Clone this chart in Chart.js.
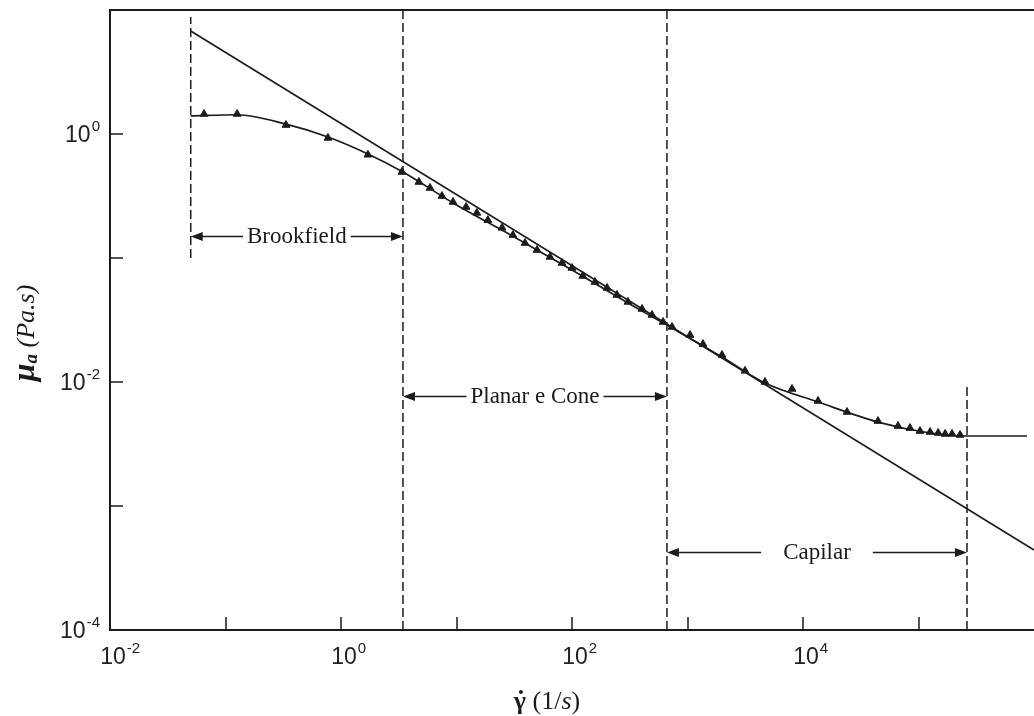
<!DOCTYPE html>
<html>
<head>
<meta charset="utf-8">
<script src="https://cdn.jsdelivr.net/npm/chart.js@4"></script>
<style>
  html, body { margin: 0; padding: 0; background: #fff; overflow: hidden; }
  #wrap { width: 1034px; height: 716px; position: relative; }
</style>
</head>
<body>
<div id="wrap"><canvas id="chart"></canvas></div>
<script>
// measured apparent viscosity (Pa.s) against shear rate (1/s)
const shearRate = [0.0652, 0.126, 0.334, 0.771, 1.71, 3.37, 4.73, 5.90, 7.48, 9.33,
  12.1, 15.0, 18.7, 24.8, 30.8, 39.2, 49.8, 64.5, 81.9, 100,
  124, 158, 201, 245, 305, 404, 493, 614, 735, 1052,
  1362, 1990, 3148, 4690, 8035, 13490, 24050, 44580, 66500, 84400,
  103000, 126000, 148000, 170000, 195000, 229000];
const viscosity = [1.45, 1.45, 1.18, 0.93, 0.68, 0.494, 0.410, 0.367, 0.316, 0.283,
  0.258, 0.231, 0.202, 0.175, 0.153, 0.132, 0.116, 0.102, 0.0912, 0.083,
  0.0716, 0.064, 0.0573, 0.0503, 0.0442, 0.0388, 0.0347, 0.0305, 0.0278, 0.0239,
  0.0202, 0.0165, 0.0123, 0.0100, 0.00879, 0.00703, 0.00573, 0.00484, 0.00441, 0.00425,
  0.00402, 0.00395, 0.00388, 0.00381, 0.00381, 0.00374];

// smooth curve drawn through the measurements
const curveRate = [0.05, 0.126, 0.334, 0.771, 1.71, 3.44, 9.33, 30.8, 100, 305,
  735, 1990, 4690, 13490, 44580, 126000, 263000, 870000];
const curveVisc = [1.40, 1.43, 1.20, 0.946, 0.69, 0.494, 0.278, 0.150, 0.080, 0.0434,
  0.0272, 0.0159, 0.0098, 0.0069, 0.00475, 0.00388, 0.00367, 0.00367];

// power-law asymptote
const powerRate = [0.05, 1e6];
const powerVisc = [6.77, 4.42e-4];

// measuring ranges of each instrument
const rangeNames = ['Brookfield', 'Planar e Cone', 'Capilar'];
const rangeFrom = [0.05, 3.44, 664];
const rangeTo = [3.44, 664, 263000];
const rangeLevel = [0.15, 0.0077, 4.26e-4];

// dashed range limits
const limitRate = [0.05, 3.44, 664, 263000];
const limitLow = [0.1, 1e-4, 1e-4, 1e-4];
const limitHigh = [8.8, 10, 10, 0.0091];

// decades with tick marks / labels
const xTickExp = [-1, 0, 1, 2, 3, 4, 5];
const xLabelExp = [-2, 0, 2, 4];
const yTickExp = [-3, -2, -1, 0];
const yLabelExp = [0, -2, -4];

const ink = '#1b1b1b';
const labelGap = [4, 4, 22];

const toPoints = (xs, ys) => xs.map((v, i) => ({ x: v, y: ys[i] }));

const datasets = [
  {
    data: toPoints(powerRate, powerVisc),
    showLine: true, borderColor: ink, borderWidth: 1.6, pointRadius: 0
  },
  {
    data: toPoints(curveRate, curveVisc),
    showLine: true, borderColor: ink, borderWidth: 1.7, pointRadius: 0,
    cubicInterpolationMode: 'monotone'
  },
  {
    data: toPoints(shearRate, viscosity),
    showLine: false, pointStyle: 'triangle', pointRadius: 4.5,
    backgroundColor: ink, borderColor: ink, borderWidth: 1
  }
];
limitRate.forEach((r, i) => {
  datasets.push({
    data: [{ x: r, y: limitLow[i] }, { x: r, y: limitHigh[i] }],
    showLine: true, borderColor: ink, borderWidth: 1.5, borderDash: [9, 4], pointRadius: 0
  });
});

function expText(exp) {
  return exp < 0 ? '-' + Math.abs(exp) : String(exp);
}

function drawPower(ctx, x, baseY, exp, bigFont, smallFont) {
  // "10" followed by a raised exponent, starting at x
  ctx.font = bigFont;
  ctx.fillText('10', x, baseY);
  const w = ctx.measureText('10').width;
  ctx.font = smallFont;
  ctx.fillText(expText(exp), x + w + 1, baseY - 11);
}

function powerWidth(ctx, exp, bigFont, smallFont) {
  ctx.font = bigFont;
  const w = ctx.measureText('10').width;
  ctx.font = smallFont;
  return { base: w, total: w + 1 + ctx.measureText(expText(exp)).width };
}

function arrowHead(ctx, tipX, y, dir) {
  ctx.beginPath();
  ctx.moveTo(tipX, y);
  ctx.lineTo(tipX - dir * 12, y - 4.5);
  ctx.lineTo(tipX - dir * 12, y + 4.5);
  ctx.closePath();
  ctx.fill();
}

const framePlugin = {
  id: 'frame',
  afterDatasetsDraw(chart) {
    const { ctx, chartArea: a, scales: { x, y } } = chart;
    ctx.save();
    ctx.strokeStyle = ink;
    ctx.fillStyle = ink;

    // axes box (left, bottom, top)
    ctx.lineWidth = 2;
    ctx.beginPath();
    ctx.moveTo(a.right, a.top);
    ctx.lineTo(a.left, a.top);
    ctx.lineTo(a.left, a.bottom);
    ctx.lineTo(a.right, a.bottom);
    ctx.stroke();

    // inward tick marks
    ctx.lineWidth = 1.5;
    ctx.beginPath();
    xTickExp.forEach(e => {
      const px = Math.round(x.getPixelForValue(Math.pow(10, e)));
      ctx.moveTo(px, a.bottom);
      ctx.lineTo(px, a.bottom - 13);
    });
    yTickExp.forEach(e => {
      const py = Math.round(y.getPixelForValue(Math.pow(10, e)));
      ctx.moveTo(a.left, py);
      ctx.lineTo(a.left + 13, py);
    });
    ctx.stroke();

    // tick labels
    const big = '23px "Liberation Sans", Arial, sans-serif';
    const small = '15px "Liberation Sans", Arial, sans-serif';
    ctx.fillStyle = '#222';
    ctx.textBaseline = 'alphabetic';
    ctx.textAlign = 'left';
    xLabelExp.forEach(e => {
      const px = x.getPixelForValue(Math.pow(10, e));
      const m = powerWidth(ctx, e, big, small);
      drawPower(ctx, px + 3 - m.base / 2, a.bottom + 34, e, big, small);
    });
    yLabelExp.forEach(e => {
      const py = y.getPixelForValue(Math.pow(10, e));
      const m = powerWidth(ctx, e, big, small);
      drawPower(ctx, a.left - 10 - m.total, py + 8, e, big, small);
    });
    ctx.fillStyle = ink;

    // instrument ranges with double arrows
    ctx.font = '23px "Liberation Serif", "Times New Roman", serif';
    rangeNames.forEach((name, i) => {
      const x0 = x.getPixelForValue(rangeFrom[i]);
      const x1 = x.getPixelForValue(rangeTo[i]);
      const ly = Math.round(y.getPixelForValue(rangeLevel[i])) + 0.5;
      const w = ctx.measureText(name).width;
      const cx = (x0 + x1) / 2;
      ctx.textAlign = 'center';
      ctx.fillText(name, cx, ly + 6);
      ctx.lineWidth = 1.5;
      ctx.beginPath();
      ctx.moveTo(x0 + 4, ly);
      ctx.lineTo(cx - w / 2 - labelGap[i], ly);
      ctx.moveTo(cx + w / 2 + labelGap[i], ly);
      ctx.lineTo(x1 - 4, ly);
      ctx.stroke();
      arrowHead(ctx, x0, ly, -1);
      arrowHead(ctx, x1, ly, 1);
    });

    // x axis title: gamma-dot (1/s)
    ctx.textAlign = 'left';
    const tx = 547, tb = 709;
    const gFont = 'bold 26px "Liberation Serif", serif';
    const rFont = '26px "Liberation Serif", serif';
    const iFont = 'italic 26px "Liberation Serif", serif';
    ctx.font = gFont;
    const gw = ctx.measureText('\u03b3').width;
    ctx.font = rFont;
    const pw1 = ctx.measureText(' (1/').width;
    ctx.font = iFont;
    const sw = ctx.measureText('s').width;
    ctx.font = rFont;
    const pw2 = ctx.measureText(')').width;
    let cx = tx - (gw + pw1 + sw + pw2) / 2;
    ctx.font = gFont;
    ctx.fillText('\u03b3', cx, tb);
    ctx.beginPath();
    ctx.arc(cx + gw / 2 + 1, tb - 17, 2, 0, Math.PI * 2);
    ctx.fill();
    cx += gw;
    ctx.font = rFont;
    ctx.fillText(' (1/', cx, tb);
    cx += pw1;
    ctx.font = iFont;
    ctx.fillText('s', cx, tb);
    cx += sw;
    ctx.font = rFont;
    ctx.fillText(')', cx, tb);

    // y axis title: mu_a (Pa.s), rotated
    ctx.translate(34, 333);
    ctx.rotate(-Math.PI / 2);
    const muFont = 'bold italic 32px "Liberation Serif", serif';
    const subFont = 'bold italic 19px "Liberation Serif", serif';
    const unitFont = 'italic 26px "Liberation Serif", serif';
    ctx.font = muFont;
    const mw = ctx.measureText('\u03bc').width;
    ctx.font = subFont;
    const aw = ctx.measureText('a').width;
    ctx.font = unitFont;
    const uw = ctx.measureText(' (Pa.s)').width;
    let rx = -(mw + aw + uw) / 2;
    ctx.font = muFont;
    ctx.fillText('\u03bc', rx, 0);
    rx += mw;
    ctx.font = subFont;
    ctx.fillText('a', rx, 3);
    rx += aw;
    ctx.font = unitFont;
    ctx.fillText(' (Pa.s)', rx, 0);

    ctx.restore();
  }
};

new Chart(document.getElementById('chart'), {
  type: 'scatter',
  data: { datasets },
  options: {
    responsive: true,
    maintainAspectRatio: false,
    animation: false,
    events: [],
    layout: { autoPadding: false, padding: { left: 110, right: 0, top: 10, bottom: 86 } },
    plugins: { legend: { display: false }, tooltip: { enabled: false } },
    scales: {
      x: { type: 'logarithmic', min: 0.01, max: 1e6, display: false },
      y: { type: 'logarithmic', min: 1e-4, max: 10, display: false }
    }
  },
  plugins: [framePlugin]
});
</script>
</body>
</html>
